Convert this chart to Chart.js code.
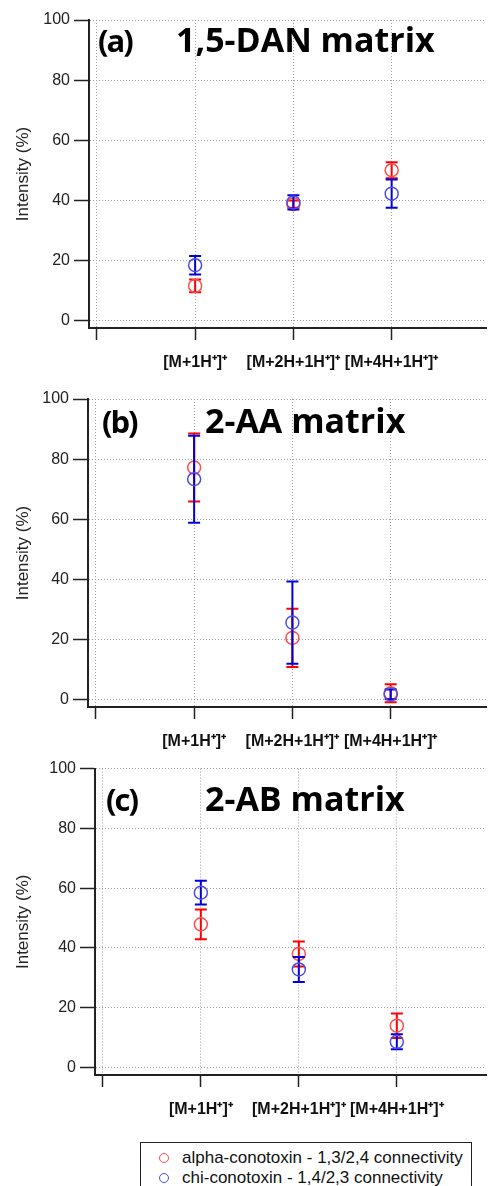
<!DOCTYPE html>
<html>
<head>
<meta charset="utf-8">
<script src="https://cdn.jsdelivr.net/npm/chart.js@4.4.1/dist/chart.umd.min.js"></script>
<style>
  body { margin: 0; background: #fff; }
  #page { position: relative; width: 494px; height: 1186px; overflow: hidden; font-family: 'Liberation Sans', Arial, sans-serif; }
  .panel { position: absolute; left: 0; width: 494px; }
  .tag, .matrix { position: absolute; font-family: 'Open Sans', sans-serif; font-weight: 700; font-size: 34px; line-height: 34px; color: #000; white-space: nowrap; }
  .tag { font-size: 31px; letter-spacing: -2px; }
  #legend { position: absolute; left: 140px; top: 1142px; width: 332px; height: 60px; border: 1.5px solid #222; box-sizing: border-box; padding-top: 5px; }
  .row { position: relative; height: 20px; line-height: 20px; font-size: 17px; color: #111; padding-left: 41px; white-space: nowrap; }
  .dot { position: absolute; left: 18px; top: 5px; width: 10px; height: 10px; border-radius: 50%; border: 1.5px solid; box-sizing: border-box; }
</style>
</head>
<body>
<div id="page"></div>
<script>
/* ── data ── */
const categories = ['[M+1H⁺]⁺', '[M+2H+1H⁺]⁺', '[M+4H+1H⁺]⁺'];
const yTicks = [0, 20, 40, 60, 80, 100];
const panelTags = ['(a)', '(b)', '(c)'];
const matrixNames = ['1,5-DAN matrix', '2-AA matrix', '2-AB matrix'];
const seriesNames = ['alpha-conotoxin - 1,3/2,4 connectivity', 'chi-conotoxin - 1,4/2,3 connectivity'];

// mean intensity (%) and ± error, one row per panel (a, b, c)
const alphaMean = [[11.5, 38.7, 50.0], [77.2, 20.5, 2.1], [47.9, 38.0, 14.0]];
const alphaErr  = [[2.1, 1.2, 2.7], [11.3, 9.7, 3.0], [5.0, 4.2, 4.1]];
const chiMean   = [[18.4, 39.3, 42.2], [73.3, 25.6, 1.7], [58.5, 32.8, 8.6]];
const chiErr    = [[3.1, 2.4, 4.7], [14.5, 13.7, 1.6], [4.0, 4.2, 2.5]];

/* ── layout of the three stacked panels ── */
const layout = [
  { top: 0,   height: 376, padTop: 20, axisLeft: 89, xMax: 3.96, tagX: 98,  nameX: 176, titleTop: 22 },
  { top: 376, height: 379, padTop: 23, axisLeft: 88, xMax: 3.97, tagX: 102, nameX: 205, titleTop: 403 },
  { top: 755, height: 368, padTop: 11, axisLeft: 95, xMax: 3.91, tagX: 106, nameX: 205, titleTop: 781 }
];

const RED = '#ff0000', RED_PT = '#ff4d4d';
const BLUE = '#0000dd', BLUE_PT = '#4d4de6';

// vertical error bars with caps, drawn just before each dataset's circles
const errorBars = {
  id: 'errorBars',
  beforeDatasetDraw(chart, args) {
    const ds = chart.data.datasets[args.index];
    if (!ds.errors) return;
    const { ctx, chartArea, scales: { x, y } } = chart;
    ctx.save();
    ctx.beginPath();
    ctx.rect(chartArea.left, chartArea.top, chartArea.width, chartArea.height);
    ctx.clip();
    ctx.strokeStyle = ds.barColor;
    ctx.lineWidth = 2;
    ds.data.forEach((p, i) => {
      const px = x.getPixelForValue(p.x);
      const hi = y.getPixelForValue(p.y + ds.errors[i]);
      const lo = y.getPixelForValue(p.y - ds.errors[i]);
      ctx.beginPath();
      ctx.moveTo(px, hi); ctx.lineTo(px, lo);
      ctx.moveTo(px - 6, hi); ctx.lineTo(px + 6, hi);
      ctx.moveTo(px - 6, lo); ctx.lineTo(px + 6, lo);
      ctx.stroke();
    });
    ctx.restore();
  }
};

Chart.defaults.font.family = "'Liberation Sans', Arial, sans-serif";

const page = document.getElementById('page');

layout.forEach((L, k) => {
  const box = document.createElement('div');
  box.className = 'panel';
  box.style.top = L.top + 'px';
  box.style.height = L.height + 'px';
  const cv = document.createElement('canvas');
  box.appendChild(cv);
  page.appendChild(box);

  const tag = document.createElement('div');
  tag.className = 'tag';
  tag.style.left = L.tagX + 'px';
  tag.style.top = (L.titleTop + 1) + 'px';
  tag.textContent = panelTags[k];
  page.appendChild(tag);

  const name = document.createElement('div');
  name.className = 'matrix';
  name.style.left = L.nameX + 'px';
  name.style.top = L.titleTop + 'px';
  name.textContent = matrixNames[k];
  page.appendChild(name);

  const gridOpts = tl => ({ color: '#a0a0a0', lineWidth: 1, tickColor: '#222', tickLength: tl, tickWidth: 1.5 });
  const borderOpts = { color: '#222', width: 2, dash: [1, 2] };

  new Chart(cv, {
    type: 'scatter',
    data: {
      datasets: [
        { label: seriesNames[0], data: alphaMean[k].map((v, i) => ({ x: i + 1, y: v })), errors: alphaErr[k],
          borderColor: RED_PT, backgroundColor: 'rgba(0,0,0,0)', pointBackgroundColor: 'rgba(0,0,0,0)', barColor: RED, order: 2 },
        { label: seriesNames[1], data: chiMean[k].map((v, i) => ({ x: i + 1, y: v })), errors: chiErr[k],
          borderColor: BLUE_PT, backgroundColor: 'rgba(0,0,0,0)', pointBackgroundColor: 'rgba(0,0,0,0)', barColor: BLUE, order: 1 }
      ]
    },
    options: {
      responsive: true,
      maintainAspectRatio: false,
      animation: false,
      events: [],
      layout: { padding: { top: L.padTop, left: 0, right: 0, bottom: 0 } },
      elements: { point: { radius: 6.5, hoverRadius: 6.5, borderWidth: 1.5 } },
      plugins: { legend: { display: false }, tooltip: { enabled: false } },
      scales: {
        x: {
          type: 'linear', min: -0.08, max: L.xMax,
          afterBuildTicks: s => { s.ticks = [0, 1, 2, 3].map(v => ({ value: v })); },
          afterFit: s => { s.height = 48; },
          ticks: { autoSkip: false, maxRotation: 0, minRotation: 0, padding: 13, color: '#111',
                   font: { size: 16, weight: 'bold' }, callback: v => categories[v - 1] || '' },
          grid: gridOpts(12),
          border: borderOpts
        },
        y: {
          min: -2.5, max: 100,
          afterBuildTicks: s => { s.ticks = yTicks.map(v => ({ value: v })); },
          afterFit: s => { s.width = L.axisLeft; },
          ticks: { padding: 4, color: '#222', font: { size: 16 } },
          title: { display: true, text: 'Intensity (%)', color: '#222', font: { size: 17 }, padding: { top: 13, bottom: 0 } },
          grid: gridOpts(15),
          border: borderOpts
        }
      }
    },
    plugins: [errorBars]
  });
});

// legend box below panel (c)
const legend = document.createElement('div');
legend.id = 'legend';
[[seriesNames[0], RED_PT], [seriesNames[1], BLUE_PT]].forEach(([txt, col]) => {
  const row = document.createElement('div');
  row.className = 'row';
  const dot = document.createElement('span');
  dot.className = 'dot';
  dot.style.borderColor = col;
  row.appendChild(dot);
  row.appendChild(document.createTextNode(txt));
  legend.appendChild(row);
});
page.appendChild(legend);
</script>
</body>
</html>
